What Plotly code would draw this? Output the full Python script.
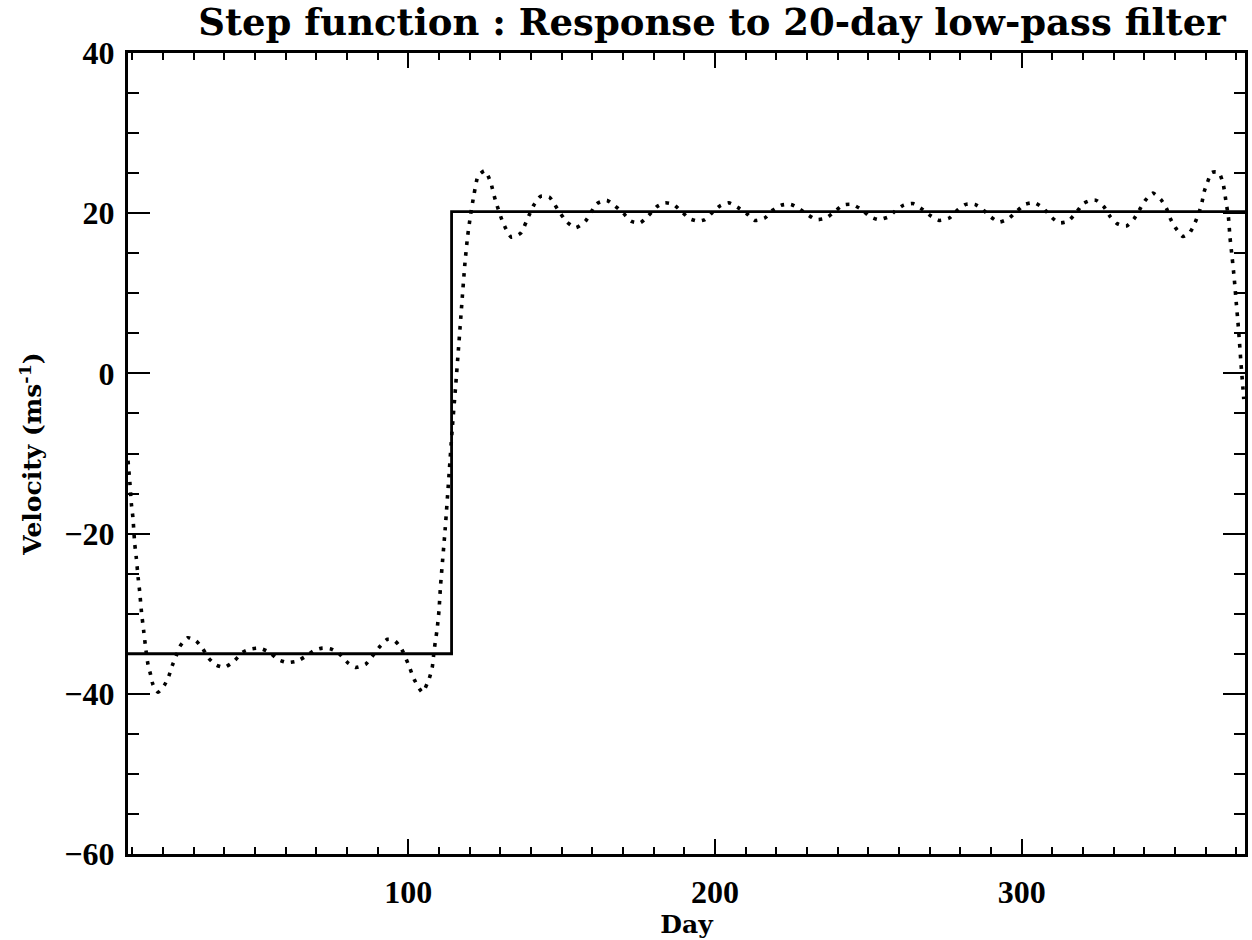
import plotly.graph_objects as go

# ---- data ----
step_day = [8.6, 114.1, 372.8]
step_vel = [-35.0, 20.2, 20.2]

gibbs_day = [
    8.6, 9.2, 9.7, 10.2, 10.8, 11.3, 11.9, 12.4, 13.0, 13.7, 14.4, 15.1, 15.9, 16.7,
    18.4, 20.5, 21.9, 23.0, 24.3, 25.5, 28.1, 30.8, 33.0, 35.0, 37.3, 40.0, 43.0,
    46.0, 48.7, 51.4, 54.7, 57.4, 60.6, 63.9, 66.6, 69.3, 72.0, 74.8, 77.5, 80.2,
    82.9, 86.1, 88.3, 90.5, 93.2, 95.3, 97.5, 100.2, 101.9, 104.6, 106.7, 107.8,
    108.4, 109.4, 110.0, 110.5, 112.0, 113.3, 114.3, 115.4, 116.4, 117.4, 118.4,
    119.3, 120.3, 121.4, 122.8, 125.0, 126.8, 128.4, 130.8, 133.6, 136.6, 139.3,
    140.9, 143.1, 146.0, 148.5, 151.7, 154.6, 157.7, 161.5, 164.7, 167.4, 170.1,
    172.6, 175.6, 178.3, 181.0, 183.7, 186.4, 189.1, 191.8, 194.5, 196.7, 198.9,
    201.6, 204.5, 207.5, 210.2, 213.0, 216.2, 218.9, 221.6, 224.7, 227.3, 230.3,
    233.0, 236.3, 239.0, 241.7, 244.6, 247.6, 250.4, 253.3, 256.9, 258.5, 261.5,
    264.5, 267.2, 270.2, 273.1, 276.4, 279.1, 281.8, 284.7, 287.2, 289.7, 292.6,
    295.6, 298.4, 301.0, 304.2, 307.1, 309.4, 312.2, 315.1, 317.6, 320.1, 322.5,
    324.3, 326.8, 328.8, 331.1, 334.1, 336.6, 338.5, 340.3, 342.8, 345.4, 347.2,
    348.5, 350.1, 352.6, 355.0, 356.6, 357.9, 358.8, 359.5, 360.6, 362.0, 364.2,
    365.6, 366.7, 367.4, 367.9, 368.6, 369.3, 370.0, 370.5, 371.0, 371.5, 372.1,
    372.4,
]
gibbs_vel = [
    -10.9, -13.6, -16.3, -18.0, -21.3, -23.0, -25.5, -27.2, -29.8, -32.1, -34.4, -36.3, -37.5, -38.8,
    -39.8, -38.9, -37.8, -36.5, -35.3, -34.1, -33.0, -33.4, -34.4, -35.6, -36.4, -36.7, -36.0,
    -34.8, -34.4, -34.3, -34.8, -35.7, -36.1, -35.9, -35.3, -34.6, -34.3, -34.4, -35.0, -36.1,
    -36.7, -36.3, -35.3, -34.2, -33.2, -33.3, -34.2, -36.5, -38.2, -39.8, -38.2, -36.7,
    -34.6, -31.9, -29.6, -26.5, -19.5, -12.5, -7.0, -1.7, 3.3, 8.5, 13.5,
    17.0, 19.8, 22.3, 24.7, 25.3, 23.9, 21.6, 18.9, 17.0, 17.5, 19.7,
    21.0, 22.1, 22.0, 20.6, 18.9, 18.2, 19.0, 21.2, 21.6, 20.9, 20.0,
    19.0, 18.8, 19.7, 20.8, 21.3, 21.1, 20.2, 19.3, 19.0, 19.2, 20.0,
    20.9, 21.3, 20.7, 20.0, 19.1, 19.4, 20.4, 21.0, 21.1, 20.6, 19.8,
    19.2, 19.4, 20.2, 21.0, 21.1, 20.5, 19.6, 19.2, 19.6, 20.2, 21.0,
    21.2, 20.6, 19.7, 19.1, 19.4, 20.4, 21.1, 21.1, 20.5, 19.6, 18.9,
    19.3, 20.25, 21.1, 21.3, 20.6, 19.6, 18.8, 19.0, 20.0, 21.2, 21.6,
    21.6, 20.8, 19.6, 18.7, 18.4, 19.3, 20.5, 21.6, 22.5, 21.7, 20.6,
    19.3, 18.2, 17.1, 17.7, 18.9, 20.2, 21.4, 22.7, 23.9, 25.1, 25.1,
    23.8, 21.2, 19.5, 17.0, 14.5, 11.8, 8.6, 6.4, 3.9, 1.2, -1.7,
    -3.2,
]

x_range = [8.6, 372.8]
y_range = [-60, 40]
x_ticks = [100, 200, 300]
y_ticks = [-60, -40, -20, 0, 20, 40]

title_text = "Step function : Response to 20-day low-pass filter"
x_title = "Day"
y_title = "Velocity (ms<sup>-1</sup>)"

fig = go.Figure()
fig.add_trace(go.Scatter(
    x=gibbs_day, y=gibbs_vel, mode="lines",
    line=dict(color="black", width=3.6, dash="3.6px,7px", shape="spline", smoothing=0.6),
    hoverinfo="skip", showlegend=False,
))
fig.add_trace(go.Scatter(
    x=step_day, y=step_vel, mode="lines",
    line=dict(color="black", width=2.8, shape="hv"),
    hoverinfo="skip", showlegend=False,
))

tickfont = dict(family="Liberation Serif", size=32, color="black", weight="bold")
titlefont = dict(family="DejaVu Serif", size=25, color="black", weight="bold")

fig.update_layout(
    width=1252, height=940,
    margin=dict(l=128, r=4, t=53, b=86),
    paper_bgcolor="white", plot_bgcolor="white",
    title=dict(text=title_text, x=712/1252, xref="container", xanchor="center",
               y=1 - 22/940, yref="container", yanchor="middle",
               font=dict(family="DejaVu Serif", size=37, color="black", weight="bold")),
    xaxis=dict(range=x_range, tickvals=x_ticks, ticks="inside", ticklen=15, tickwidth=2.2,
               tickcolor="black", showline=True, linewidth=3, linecolor="black", mirror="ticks",
               showgrid=False, zeroline=False, tickfont=tickfont, ticklabelstandoff=8,
               minor=dict(ticks="inside", ticklen=7, tickwidth=2, dtick=10, tick0=0,
                          tickcolor="black", showgrid=False),
               title=dict(text=x_title, font=titlefont, standoff=6)),
    yaxis=dict(range=y_range, tickvals=y_ticks, ticks="inside", ticklen=22, tickwidth=2.2,
               tickcolor="black", showline=True, linewidth=3, linecolor="black", mirror="ticks",
               showgrid=False, zeroline=False, tickfont=tickfont, ticklabelstandoff=4,
               minor=dict(ticks="inside", ticklen=11, tickwidth=2, dtick=5, tick0=0,
                          tickcolor="black", showgrid=False),
               title=dict(text=y_title, font=titlefont, standoff=16)),
)

fig.write_html("out.html")
